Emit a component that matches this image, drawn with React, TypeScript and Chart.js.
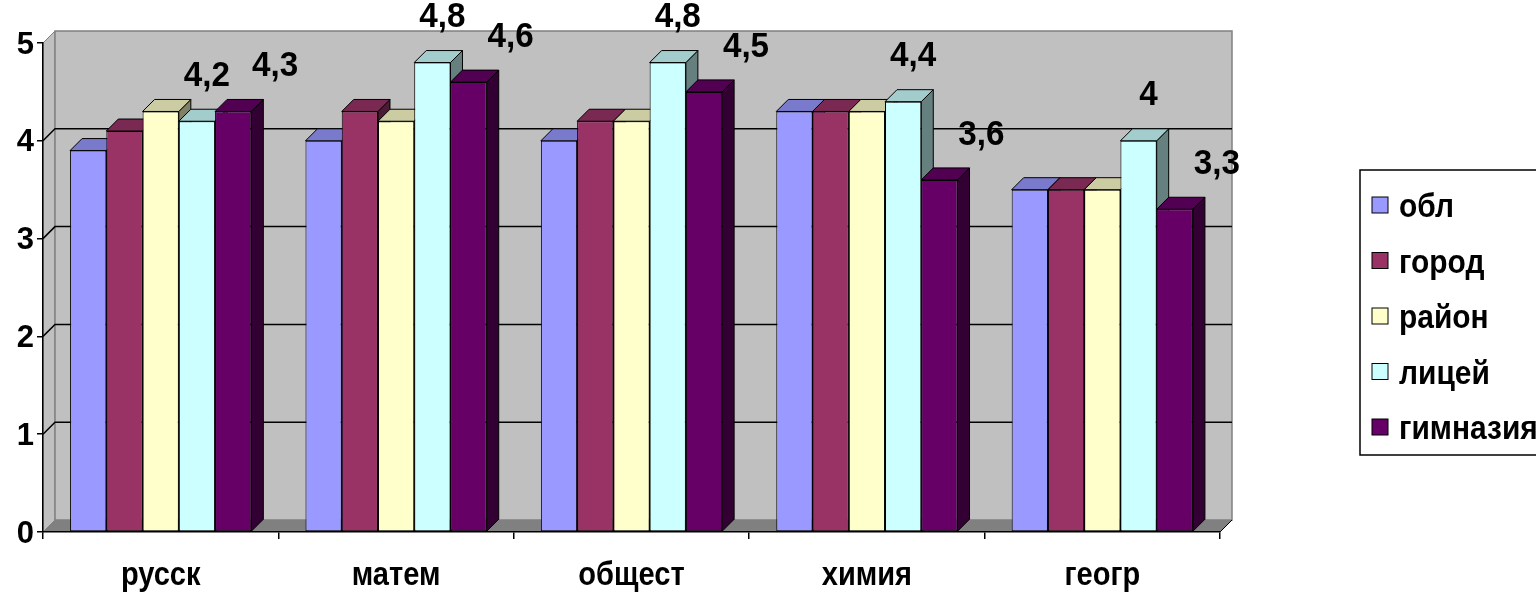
import React, { useEffect, useRef } from 'react';
import { Chart, registerables } from 'chart.js';

Chart.register(...registerables);

const categories = ['русск', 'матем', 'общест', 'химия', 'геогр'];
const seriesNames = ['обл', 'город', 'район', 'лицей', 'гимназия'];
const oblValues = [3.9, 4.0, 4.0, 4.3, 3.5];
const gorodValues = [4.1, 4.3, 4.2, 4.3, 3.5];
const rayonValues = [4.3, 4.2, 4.2, 4.3, 3.5];
const liceyValues = [4.2, 4.8, 4.8, 4.4, 4.0];
const gimnValues = [4.3, 4.6, 4.5, 3.6, 3.3];
const seriesColors = ['#9999FF', '#993366', '#FFFFCC', '#CCFFFF', '#660066'];
const labeledSeries = [3, 4];
const yTickValues = [0, 1, 2, 3, 4, 5];

const FONT = "'Liberation Sans', Arial, sans-serif";
const DX = 12;
const DY = 12;
const LABEL_OFFSET_X = [0, 0, 0, 10, 42];
const LABEL_OFFSET_Y = 45;

function shade(hex: string, f: number): string {
  const n = parseInt(hex.slice(1), 16);
  const r = Math.round(((n >> 16) & 255) * f);
  const g = Math.round(((n >> 8) & 255) * f);
  const b = Math.round((n & 255) * f);
  return `rgb(${r},${g},${b})`;
}

function poly(ctx: CanvasRenderingContext2D, pts: number[][]) {
  ctx.beginPath();
  ctx.moveTo(pts[0][0], pts[0][1]);
  for (let i = 1; i < pts.length; i++) ctx.lineTo(pts[i][0], pts[i][1]);
  ctx.closePath();
}

function drawText(
  ctx: CanvasRenderingContext2D,
  text: string,
  x: number,
  y: number,
  size: number,
  sx: number,
  align: CanvasTextAlign,
  baseline: CanvasTextBaseline
) {
  ctx.save();
  ctx.translate(x, y);
  ctx.scale(sx, 1);
  ctx.font = `bold ${size}px ${FONT}`;
  ctx.fillStyle = '#000';
  ctx.textAlign = align;
  ctx.textBaseline = baseline;
  ctx.fillText(text, 0, 0);
  ctx.restore();
}

const wallsPlugin = {
  id: 'walls3d',
  beforeDraw(chart: any) {
    const { ctx, chartArea: a, scales } = chart;
    const y = scales.y;
    const L = a.left, R = a.right, T = a.top, B = a.bottom;
    ctx.save();
    poly(ctx, [[L, T], [L + DX, T - DY], [L + DX, B - DY], [L, B]]);
    ctx.fillStyle = '#C0C0C0';
    ctx.fill();
    ctx.strokeStyle = '#808080';
    ctx.lineWidth = 1;
    ctx.stroke();
    ctx.fillStyle = '#C0C0C0';
    ctx.fillRect(L + DX, T - DY, R - L, B - T);
    ctx.strokeStyle = '#808080';
    ctx.lineWidth = 1.5;
    ctx.strokeRect(L + DX, T - DY, R - L, B - T);
    poly(ctx, [[L, B], [R, B], [R + DX, B - DY], [L + DX, B - DY]]);
    ctx.fillStyle = '#808080';
    ctx.fill();
    ctx.strokeStyle = '#000';
    ctx.lineWidth = 1;
    ctx.beginPath();
    ctx.moveTo(R, B);
    ctx.lineTo(R + DX, B - DY);
    ctx.stroke();
    ctx.strokeStyle = '#000';
    ctx.lineWidth = 1.5;
    yTickValues.forEach((v) => {
      if (v === 0 || v === 5) return;
      const yy = y.getPixelForValue(v);
      ctx.beginPath();
      ctx.moveTo(L, yy);
      ctx.lineTo(L + DX, yy - DY);
      ctx.lineTo(R + DX, yy - DY);
      ctx.stroke();
    });
    ctx.restore();
  },
};

const barFacesPlugin = {
  id: 'barFaces3d',
  beforeDatasetsDraw(chart: any) {
    const { ctx } = chart;
    ctx.save();
    ctx.strokeStyle = '#000';
    ctx.lineWidth = 1;
    ctx.lineJoin = 'round';
    const n = chart.data.labels.length;
    for (let j = 0; j < n; j++) {
      chart.data.datasets.forEach((ds: any, i: number) => {
        const el: any = chart.getDatasetMeta(i).data[j];
        if (!el) return;
        const { x, y, base, width } = el.getProps(['x', 'y', 'base', 'width'], true);
        const l = x - width / 2;
        const r = x + width / 2;
        const col = seriesColors[i];
        poly(ctx, [[r, y], [r + DX, y - DY], [r + DX, base - DY], [r, base]]);
        ctx.fillStyle = shade(col, 0.5);
        ctx.fill();
        ctx.stroke();
        poly(ctx, [[l, y], [r, y], [r + DX, y - DY], [l + DX, y - DY]]);
        ctx.fillStyle = shade(col, 0.8);
        ctx.fill();
        ctx.stroke();
      });
    }
    ctx.restore();
  },
};

const dataLabelsPlugin = {
  id: 'valueLabels',
  afterDatasetsDraw(chart: any) {
    const { ctx } = chart;
    labeledSeries.forEach((i) => {
      const meta = chart.getDatasetMeta(i);
      const values = chart.data.datasets[i].data;
      meta.data.forEach((el: any, j: number) => {
        const txt = String(values[j]).replace('.', ',');
        drawText(ctx, txt, el.x + LABEL_OFFSET_X[i], el.y - LABEL_OFFSET_Y, 35, 0.95, 'center', 'middle');
      });
    });
  },
};

const axisLabelsPlugin = {
  id: 'axisLabels',
  afterDraw(chart: any) {
    const { ctx, scales } = chart;
    const xs = scales.x;
    const ys = scales.y;
    ys.ticks.forEach((t: any) => {
      const yy = ys.getPixelForValue(t.value);
      drawText(ctx, String(t.value), ys.right - 9, yy + 2, 31, 1.0, 'right', 'middle');
    });
    xs.ticks.forEach((t: any, i: number) => {
      const xx = xs.getPixelForTick(i);
      drawText(ctx, String(xs.getLabelForValue(t.value)), xx, 585, 33, 0.88, 'center', 'alphabetic');
    });
  },
};

const legendPlugin = {
  id: 'customLegend',
  afterDraw(chart: any) {
    const { ctx } = chart;
    const bx = 1360, by = 170, bw = 200, bh = 285;
    ctx.save();
    ctx.fillStyle = '#fff';
    ctx.fillRect(bx, by, bw, bh);
    ctx.strokeStyle = '#000';
    ctx.lineWidth = 1.5;
    ctx.strokeRect(bx, by, bw, bh);
    chart.data.datasets.forEach((ds: any, i: number) => {
      const cy = 205 + i * 55.5;
      ctx.fillStyle = ds.backgroundColor;
      ctx.fillRect(1372, cy - 8, 16, 16);
      ctx.lineWidth = 1;
      ctx.strokeStyle = '#000';
      ctx.strokeRect(1372, cy - 8, 16, 16);
      drawText(ctx, ds.label, 1399, cy + 12, 34, 0.88, 'left', 'alphabetic');
    });
    ctx.restore();
  },
};

export default function App() {
  const canvasRef = useRef<HTMLCanvasElement | null>(null);

  useEffect(() => {
    if (!canvasRef.current) return;
    const allValues = [oblValues, gorodValues, rayonValues, liceyValues, gimnValues];
    const chart = new Chart(canvasRef.current, {
      type: 'bar',
      data: {
        labels: categories,
        datasets: seriesNames.map((name, i) => ({
          label: name,
          data: allValues[i],
          backgroundColor: seriesColors[i],
          borderColor: '#000',
          borderWidth: 1,
          borderSkipped: false,
          categoryPercentage: 0.77,
          barPercentage: 1.0,
        })),
      },
      options: {
        animation: false,
        responsive: true,
        maintainAspectRatio: false,
        layout: { padding: { top: 43, right: 316, left: 0, bottom: 0 } },
        plugins: {
          legend: { display: false },
          tooltip: { enabled: false },
        },
        scales: {
          x: {
            afterFit: (scale: any) => { scale.height = 65; },
            grid: {
              offset: true,
              drawOnChartArea: false,
              tickLength: 7,
              color: '#000',
              lineWidth: 1.5,
            },
            border: { color: '#000', width: 1.5 },
            ticks: { display: false },
          },
          y: {
            min: 0,
            max: 5,
            afterFit: (scale: any) => { scale.width = 43; },
            afterBuildTicks: (scale: any) => {
              scale.ticks = yTickValues.map((v) => ({ value: v }));
            },
            grid: {
              drawOnChartArea: false,
              tickLength: 6,
              color: '#000',
              lineWidth: 1.5,
            },
            border: { color: '#000', width: 1.5 },
            ticks: { display: false },
          },
        },
      },
      plugins: [wallsPlugin, barFacesPlugin, dataLabelsPlugin, axisLabelsPlugin, legendPlugin],
    } as any);
    return () => chart.destroy();
  }, []);

  return (
    <div style={{ position: 'fixed', left: 0, top: 0, width: 1536, height: 597, background: '#fff' }}>
      <canvas ref={canvasRef} />
    </div>
  );
}
